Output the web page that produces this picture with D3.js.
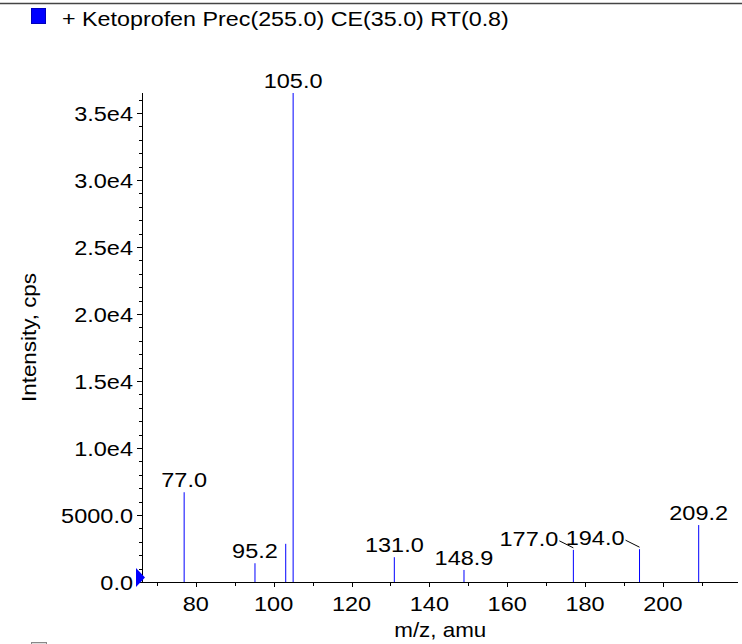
<!DOCTYPE html>
<html>
<head>
<meta charset="utf-8">
<script src="https://cdn.jsdelivr.net/npm/d3@7"></script>
<style>
  html, body { margin: 0; padding: 0; background: #fff; }
  text { font-family: "Liberation Sans", Arial, Helvetica, sans-serif; fill: #000; }
</style>
</head>
<body>
<svg id="chart" width="742" height="644"></svg>
<script>
// ---- data ----
const title = "+ Ketoprofen Prec(255.0) CE(35.0) RT(0.8)";
const mz = [77.0, 95.2, 103.1, 105.0, 131.0, 148.9, 177.0, 194.0, 209.2];
const intensity = [6700, 1400, 2850, 36500, 1850, 900, 2400, 2450, 4250];
const peakLabels = ["77.0", "95.2", "", "105.0", "131.0", "148.9", "177.0", "194.0", "209.2"];
const calloutLabels = ["177.0", "194.0"];
const xTicks = [80, 100, 120, 140, 160, 180, 200];
const xTickLabels = ["80", "100", "120", "140", "160", "180", "200"];
const yTicks = [0, 5000, 10000, 15000, 20000, 25000, 30000, 35000];
const yTickLabels = ["0.0", "5000.0", "1.0e4", "1.5e4", "2.0e4", "2.5e4", "3.0e4", "3.5e4"];
const xDomain = [66.3, 219.3];
const yDomain = [0, 36500];
const xLabel = "m/z, amu";
const yLabel = "Intensity, cps";

// ---- layout ----
const SX = 1.12; // horizontal glyph stretch
const pL = 142.5, pR = 738, pT = 93, pB = 582;
const svg = d3.select("#chart");
const x = d3.scaleLinear().domain(xDomain).range([pL, pR]);
const y = d3.scaleLinear().domain(yDomain).range([pB, pT]);

function txt(g, px, py, s, size, anchor, rot = 0, dy = null) {
  const t = g.append("text")
    .attr("transform", `translate(${px},${py}) rotate(${rot}) scale(${SX},1)`)
    .attr("text-anchor", anchor)
    .attr("font-size", size)
    .text(s);
  if (dy) t.attr("dy", dy);
  return t;
}

// top rule
svg.append("line").attr("x1", 0).attr("x2", 742).attr("y1", 3.5).attr("y2", 3.5)
  .attr("stroke", "#444").attr("stroke-width", 1.6);

// legend
svg.append("rect").attr("x", 31.5).attr("y", 8.5).attr("width", 14).attr("height", 15)
  .attr("fill", "#0000ff").attr("stroke", "#0000bb").attr("stroke-width", 1);
txt(svg, 62, 26, title, 20.8, "start");

// bottom stub of second legend marker
svg.append("rect").attr("x", 31.5).attr("y", 642.5).attr("width", 15).attr("height", 10)
  .attr("fill", "#ddd").attr("stroke", "#888");

// axes
const g = svg.append("g");
const yMinor = d3.range(0, yDomain[1] + 1, 1000);
const xMinor = d3.range(70, xDomain[1], 10);

g.append("g").attr("transform", `translate(0,${pB})`)
  .call(d3.axisBottom(x).tickValues(xMinor).tickSize(4).tickFormat(""))
  .call(a => a.select(".domain").remove())
  .selectAll("line").attr("stroke", "#000").attr("shape-rendering", "crispEdges");
g.append("g").attr("transform", `translate(0,${pB})`)
  .call(d3.axisBottom(x).tickValues(xTicks).tickSize(5).tickFormat(""))
  .call(a => a.select(".domain").remove())
  .selectAll("line").attr("stroke", "#000").attr("shape-rendering", "crispEdges");
g.append("g").attr("transform", `translate(${pL},0)`)
  .call(d3.axisLeft(y).tickValues(yMinor).tickSize(4).tickFormat(""))
  .call(a => a.select(".domain").remove())
  .selectAll("line").attr("stroke", "#000").attr("shape-rendering", "crispEdges");
g.append("g").attr("transform", `translate(${pL},0)`)
  .call(d3.axisLeft(y).tickValues(yTicks).tickSize(6).tickFormat(""))
  .call(a => a.select(".domain").remove())
  .selectAll("line").attr("stroke", "#000").attr("shape-rendering", "crispEdges");

g.append("line").attr("x1", pL).attr("x2", pL).attr("y1", pT).attr("y2", pB)
  .attr("stroke", "#000").attr("shape-rendering", "crispEdges");
g.append("line").attr("x1", pL).attr("x2", pR).attr("y1", pB).attr("y2", pB)
  .attr("stroke", "#000").attr("shape-rendering", "crispEdges");

// tick labels
yTicks.forEach((v, i) => txt(g, pL - 9.5, y(v), yTickLabels[i], 21, "end", 0, "0.36em"));
xTicks.forEach((v, i) => txt(g, x(v), pB + 28.5, xTickLabels[i], 21, "middle"));

// axis titles
txt(svg, (pL + pR) / 2, 636.5, xLabel, 20, "middle");
txt(svg, 36, (pT + pB) / 2, yLabel, 20, "middle", -90);

// peaks
const peaks = mz.map((m, i) => ({ m, v: intensity[i], label: peakLabels[i] }));
const pg = svg.append("g");
pg.selectAll("line.peak").data(peaks).join("line").attr("class", "peak")
  .attr("x1", d => x(d.m)).attr("x2", d => x(d.m))
  .attr("y1", y(0)).attr("y2", d => y(d.v))
  .attr("stroke", "#0000ff").attr("stroke-width", 1);

peaks.filter(d => d.label).forEach(d => {
  const px = x(d.m), py = y(d.v);
  if (calloutLabels.includes(d.label)) {
    txt(pg, px - 15, py - 4, d.label, 21, "end");
    pg.append("line").attr("x1", px - 14).attr("y1", py - 9).attr("x2", px).attr("y2", py - 2)
      .attr("stroke", "#000").attr("stroke-width", 1);
  } else {
    txt(pg, px, py - 5, d.label, 21, "middle");
  }
});

// origin marker
const ox = pL, oy = y(0);
svg.append("path")
  .attr("d", `M${ox - 6.5},${oy - 14}L${ox - 6.5},${oy + 5}L${ox + 2.5},${oy - 4.5}Z`)
  .attr("fill", "#0000ff");
</script>
</body>
</html>
